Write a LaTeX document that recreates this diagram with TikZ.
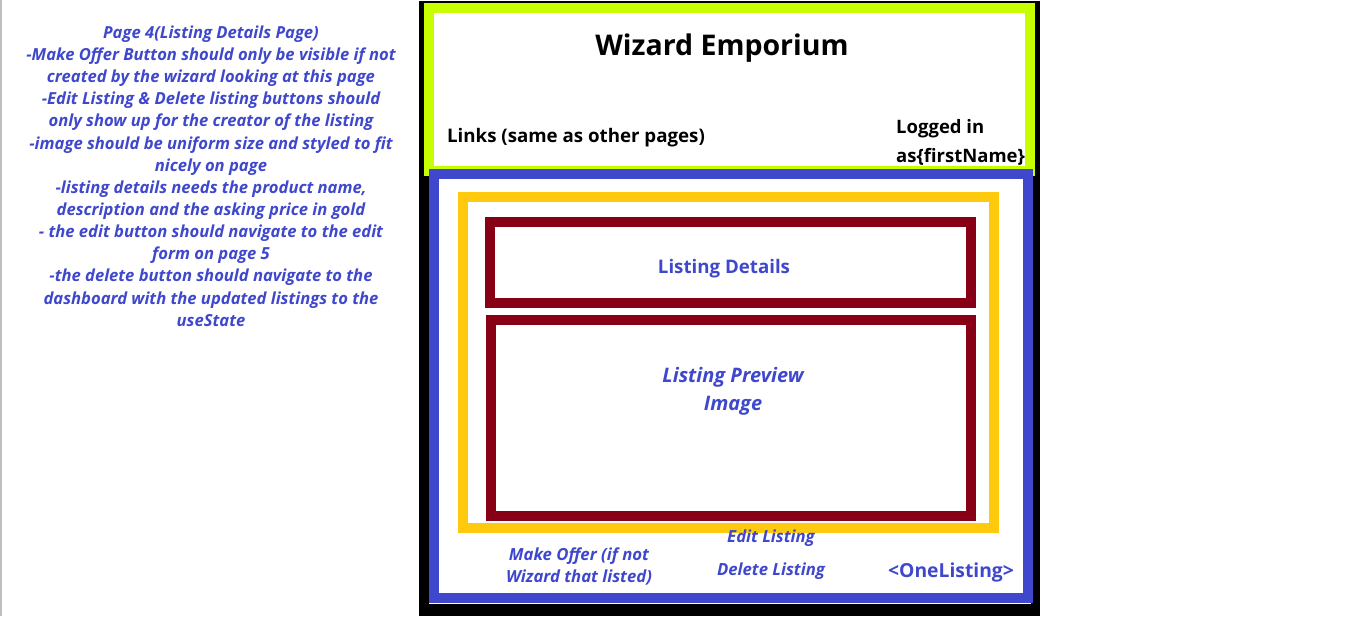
\documentclass[tikz,border=0pt]{standalone}
\usepackage{fontspec}
\setmainfont{Open Sans}
\definecolor{limeframe}{RGB}{200,255,0}
\definecolor{indigo}{RGB}{63,72,204}
\definecolor{goldframe}{RGB}{255,201,14}
\definecolor{maroonframe}{RGB}{136,0,21}
\begin{document}
\begin{tikzpicture}[x=1pt,y=-1pt,
  frame/.style={line width=10pt, line join=miter},
  notes/.style={text=indigo, inner sep=0pt, align=center,
    font=\fontsize{16.6}{22.15}\selectfont\bfseries\itshape},
  heading/.style={inner sep=0pt, font=\fontsize{28.5}{34}\selectfont\bfseries},
  navtext/.style={inner sep=0pt, font=\fontsize{18.7}{29}\selectfont\bfseries},
  usertext/.style={inner sep=0pt, font=\fontsize{18.5}{29}\selectfont\bfseries},
  section/.style={text=indigo, inner sep=0pt, font=\fontsize{18.7}{28}\selectfont\bfseries},
  sectionit/.style={section, font=\fontsize{20}{28}\selectfont\bfseries\itshape, align=center},
  button/.style={text=indigo, inner sep=0pt, align=center,
    font=\fontsize{16.7}{22}\selectfont\bfseries\itshape},
  tag/.style={text=indigo, inner sep=0pt, font=\fontsize{19.3}{22}\selectfont\bfseries}]
% canvas
\fill[white] (0,0) rectangle (1352,616);
\useasboundingbox (0,0) rectangle (1352,616);
\fill[black!25] (0,0) rectangle (2,616);
% page mock-up
\fill[black] (419,1) rectangle (1040,616);
\draw[frame, draw=limeframe, fill=white] (429,8) rectangle (1030,171);
\draw[frame, draw=indigo, fill=white] (434,174) rectangle (1028,598);
\draw[white, line width=1pt] (429,603.5) -- (1031,603.5);
\draw[frame, draw=goldframe] (463,197) rectangle (994,528);
\draw[frame, draw=maroonframe] (490,222) rectangle (971,303);
\draw[frame, draw=maroonframe] (491,320) rectangle (971,516);
% requirement notes
\node[notes] (req) at (211,176) {Page 4(Listing Details Page)\\
-Make Offer Button should only be visible if not\\
created by the wizard looking at this page\\
-Edit Listing \& Delete listing buttons should\\
only show up for the creator of the listing\\
-image should be uniform size and styled to fit\\
nicely on page\\
-listing details needs the product name,\\
description and the asking price in gold\\
- the edit button should navigate to the edit\\
form on page 5\\
-the delete button should navigate to the\\
dashboard with the updated listings to the\\
useState};
% header
\node[heading] (title) at (722,48) {Wizard Emporium};
\node[navtext] (links) at (576,138) {Links (same as other pages)};
\node[usertext, align=left, anchor=west] (user) at (896,142.5) {Logged in\\as\{firstName\}};
% body
\node[section] (details) at (724,269) {Listing Details};
\node[sectionit] (preview) at (733,391) {Listing Preview\\Image};
\node[button] (offer) at (579,566) {Make Offer (if not\\Wizard that listed)};
\node[button] (edit) at (771,538) {Edit Listing};
\node[button] (delete) at (771,571) {Delete Listing};
\node[tag] (component) at (951,572) {<OneListing>};
\end{tikzpicture}
\end{document}
